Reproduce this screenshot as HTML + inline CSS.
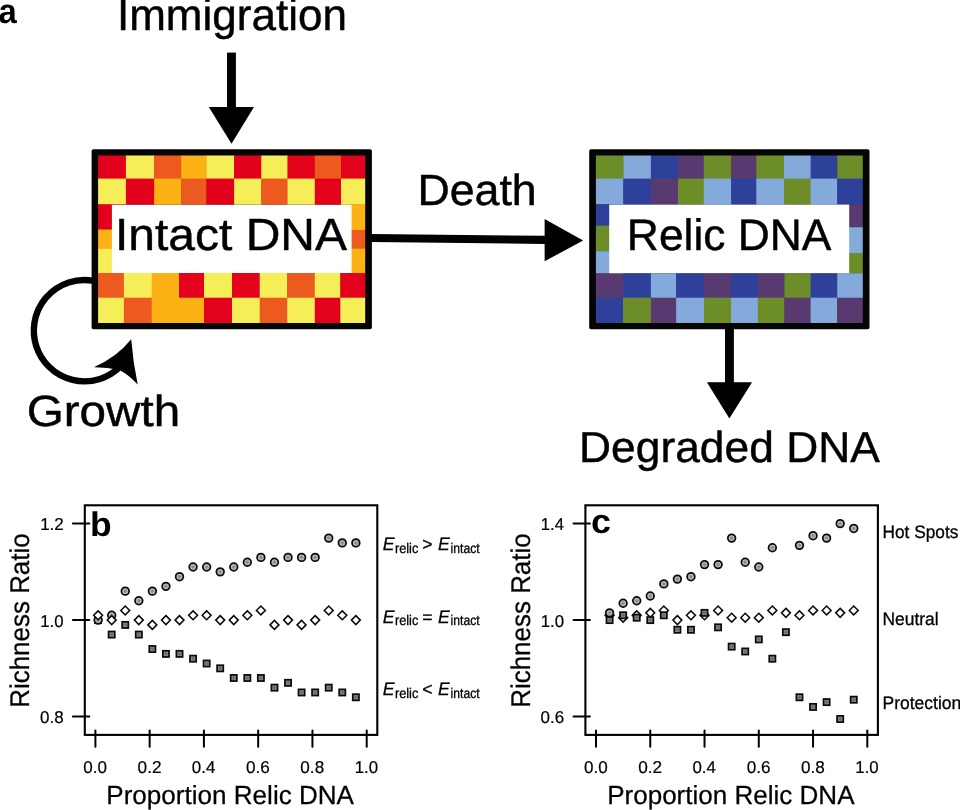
<!DOCTYPE html>
<html><head><meta charset="utf-8"><title>Figure</title>
<style>html,body{margin:0;padding:0;background:#fff;}body{width:960px;height:810px;overflow:hidden;}svg{display:block;will-change:transform;opacity:0.999;}text{font-family:'Liberation Sans',sans-serif;fill:#000;font-kerning:none;text-rendering:geometricPrecision;}</style></head><body>
<svg width="960" height="810" viewBox="0 0 960 810">
<defs><radialGradient id="gc"><stop offset="0" stop-color="#787878"/><stop offset="0.35" stop-color="#9c9c9c"/><stop offset="0.8" stop-color="#cacaca"/></radialGradient><radialGradient id="gs"><stop offset="0" stop-color="#626262"/><stop offset="0.45" stop-color="#767676"/><stop offset="0.85" stop-color="#9c9c9c"/></radialGradient></defs>
<rect width="960" height="810" fill="#fff"/>
<text transform="translate(-1.59,22.60) scale(0.9498,1)" font-size="34.6" font-weight="bold">a</text>
<text transform="translate(116.95,29.70) scale(1.0004,1)" font-size="44" stroke="#000" stroke-width="0.45">Immigration</text>
<rect x="227" y="52.6" width="8.9" height="56" fill="#000"/>
<polygon points="208.8,107 254,107 231.5,143.7" fill="#000"/>
<rect x="91.6" y="149.2" width="280.30" height="180.10" fill="#050505" rx="1.8"/>
<rect x="98.10" y="155.50" width="28.20" height="23.50" fill="#e3001c"/>
<rect x="125.90" y="155.50" width="28.60" height="23.50" fill="#f6ee58"/>
<rect x="154.10" y="155.50" width="27.40" height="23.50" fill="#ec5a1f"/>
<rect x="181.10" y="155.50" width="25.70" height="23.50" fill="#fcb114"/>
<rect x="206.40" y="155.50" width="28.10" height="23.50" fill="#f6ee58"/>
<rect x="234.10" y="155.50" width="27.55" height="23.50" fill="#e3001c"/>
<rect x="261.25" y="155.50" width="26.65" height="23.50" fill="#f6ee58"/>
<rect x="287.50" y="155.50" width="27.70" height="23.50" fill="#e3001c"/>
<rect x="314.80" y="155.50" width="26.60" height="23.50" fill="#ec5a1f"/>
<rect x="341.00" y="155.50" width="24.20" height="23.50" fill="#e3001c"/>
<rect x="98.10" y="178.60" width="28.20" height="26.10" fill="#f6ee58"/>
<rect x="125.90" y="178.60" width="28.60" height="26.10" fill="#e3001c"/>
<rect x="154.10" y="178.60" width="27.40" height="26.10" fill="#fcb114"/>
<rect x="181.10" y="178.60" width="25.70" height="26.10" fill="#ec5a1f"/>
<rect x="206.40" y="178.60" width="28.10" height="26.10" fill="#e3001c"/>
<rect x="234.10" y="178.60" width="27.55" height="26.10" fill="#f6ee58"/>
<rect x="261.25" y="178.60" width="26.65" height="26.10" fill="#ec5a1f"/>
<rect x="287.50" y="178.60" width="27.70" height="26.10" fill="#f6ee58"/>
<rect x="314.80" y="178.60" width="26.60" height="26.10" fill="#e3001c"/>
<rect x="341.00" y="178.60" width="24.20" height="26.10" fill="#f6ee58"/>
<rect x="98.10" y="204.30" width="28.20" height="25.60" fill="#e3001c"/>
<rect x="341.00" y="204.30" width="24.20" height="26.10" fill="#fcb114"/>
<rect x="98.10" y="229.50" width="26.20" height="19.80" fill="#fcb114"/>
<rect x="340.30" y="230.00" width="24.90" height="18.90" fill="#ec5a1f"/>
<rect x="98.10" y="248.90" width="26.20" height="24.50" fill="#f6ee58"/>
<rect x="340.30" y="248.50" width="24.90" height="24.90" fill="#fcb114"/>
<rect x="98.10" y="273.00" width="26.20" height="25.10" fill="#ec5a1f"/>
<rect x="123.90" y="273.00" width="28.20" height="25.10" fill="#f6ee58"/>
<rect x="151.70" y="273.00" width="27.70" height="25.10" fill="#fcb114"/>
<rect x="179.00" y="273.00" width="25.40" height="25.10" fill="#e3001c"/>
<rect x="204.00" y="273.00" width="28.40" height="25.10" fill="#f6ee58"/>
<rect x="232.00" y="273.00" width="28.10" height="25.10" fill="#e3001c"/>
<rect x="259.70" y="273.00" width="27.90" height="25.10" fill="#f6ee58"/>
<rect x="287.20" y="273.00" width="28.00" height="25.10" fill="#ec5a1f"/>
<rect x="314.80" y="273.00" width="25.90" height="25.10" fill="#f6ee58"/>
<rect x="340.30" y="273.00" width="24.90" height="25.10" fill="#e3001c"/>
<rect x="98.10" y="297.70" width="26.20" height="25.30" fill="#f6ee58"/>
<rect x="123.90" y="297.70" width="28.20" height="25.30" fill="#ec5a1f"/>
<rect x="151.70" y="297.70" width="27.70" height="25.30" fill="#fcb114"/>
<rect x="179.00" y="297.70" width="25.40" height="25.30" fill="#fcb114"/>
<rect x="204.00" y="297.70" width="28.40" height="25.30" fill="#e3001c"/>
<rect x="232.00" y="297.70" width="28.10" height="25.30" fill="#f6ee58"/>
<rect x="259.70" y="297.70" width="27.90" height="25.30" fill="#ec5a1f"/>
<rect x="287.20" y="297.70" width="28.00" height="25.30" fill="#f6ee58"/>
<rect x="314.80" y="297.70" width="25.90" height="25.30" fill="#e3001c"/>
<rect x="340.30" y="297.70" width="24.90" height="25.30" fill="#f6ee58"/>
<rect x="111.9" y="204.8" width="239.70" height="68.20" fill="#fff"/>
<text transform="translate(114.99,250.40) scale(1.0663,1)" font-size="45" stroke="#000" stroke-width="0.45">Intact DNA</text>
<rect x="589.2" y="149.2" width="280.30" height="180.00" fill="#050505" rx="1.8"/>
<rect x="595.90" y="155.50" width="27.80" height="23.50" fill="#6c8d28"/>
<rect x="623.30" y="155.50" width="28.00" height="23.50" fill="#84a9db"/>
<rect x="650.90" y="155.50" width="27.50" height="23.50" fill="#2d419b"/>
<rect x="678.00" y="155.50" width="26.15" height="23.50" fill="#583a70"/>
<rect x="703.75" y="155.50" width="27.85" height="23.50" fill="#6c8d28"/>
<rect x="731.20" y="155.50" width="25.45" height="23.50" fill="#583a70"/>
<rect x="756.25" y="155.50" width="28.15" height="23.50" fill="#6c8d28"/>
<rect x="784.00" y="155.50" width="27.00" height="23.50" fill="#84a9db"/>
<rect x="810.60" y="155.50" width="27.00" height="23.50" fill="#2d419b"/>
<rect x="837.20" y="155.50" width="25.60" height="23.50" fill="#6c8d28"/>
<rect x="595.90" y="178.60" width="27.80" height="26.00" fill="#84a9db"/>
<rect x="623.30" y="178.60" width="28.00" height="26.00" fill="#2d419b"/>
<rect x="650.90" y="178.60" width="27.50" height="26.00" fill="#583a70"/>
<rect x="678.00" y="178.60" width="26.15" height="26.00" fill="#6c8d28"/>
<rect x="703.75" y="178.60" width="27.85" height="26.00" fill="#84a9db"/>
<rect x="731.20" y="178.60" width="25.45" height="26.00" fill="#2d419b"/>
<rect x="756.25" y="178.60" width="28.15" height="26.00" fill="#84a9db"/>
<rect x="784.00" y="178.60" width="27.00" height="26.00" fill="#6c8d28"/>
<rect x="810.60" y="178.60" width="27.00" height="26.00" fill="#84a9db"/>
<rect x="837.20" y="178.60" width="25.60" height="26.00" fill="#2d419b"/>
<rect x="595.90" y="204.20" width="27.80" height="21.90" fill="#2d419b"/>
<rect x="837.20" y="204.20" width="25.60" height="23.40" fill="#583a70"/>
<rect x="595.90" y="225.70" width="27.50" height="25.90" fill="#6c8d28"/>
<rect x="837.20" y="227.20" width="25.60" height="26.20" fill="#84a9db"/>
<rect x="595.90" y="251.20" width="27.50" height="22.50" fill="#84a9db"/>
<rect x="837.20" y="253.00" width="25.60" height="20.70" fill="#6c8d28"/>
<rect x="595.90" y="273.30" width="27.50" height="24.80" fill="#583a70"/>
<rect x="623.00" y="273.30" width="28.30" height="24.80" fill="#2d419b"/>
<rect x="650.90" y="273.30" width="25.60" height="24.80" fill="#84a9db"/>
<rect x="676.10" y="273.30" width="28.30" height="24.80" fill="#2d419b"/>
<rect x="704.00" y="273.30" width="27.40" height="24.80" fill="#583a70"/>
<rect x="731.00" y="273.30" width="27.20" height="24.80" fill="#2d419b"/>
<rect x="757.80" y="273.30" width="27.00" height="24.80" fill="#583a70"/>
<rect x="784.40" y="273.30" width="26.60" height="24.80" fill="#6c8d28"/>
<rect x="810.60" y="273.30" width="27.00" height="24.80" fill="#2d419b"/>
<rect x="837.20" y="273.30" width="25.60" height="24.80" fill="#84a9db"/>
<rect x="595.90" y="297.70" width="27.50" height="25.30" fill="#2d419b"/>
<rect x="623.00" y="297.70" width="28.30" height="25.30" fill="#6c8d28"/>
<rect x="650.90" y="297.70" width="25.60" height="25.30" fill="#583a70"/>
<rect x="676.10" y="297.70" width="28.30" height="25.30" fill="#84a9db"/>
<rect x="704.00" y="297.70" width="27.40" height="25.30" fill="#6c8d28"/>
<rect x="731.00" y="297.70" width="27.20" height="25.30" fill="#84a9db"/>
<rect x="757.80" y="297.70" width="27.00" height="25.30" fill="#6c8d28"/>
<rect x="784.40" y="297.70" width="26.60" height="25.30" fill="#583a70"/>
<rect x="810.60" y="297.70" width="27.00" height="25.30" fill="#84a9db"/>
<rect x="837.20" y="297.70" width="25.60" height="25.30" fill="#583a70"/>
<rect x="609.2" y="204.6" width="240.00" height="68.60" fill="#fff"/>
<text transform="translate(626.87,249.80) scale(1.0082,1)" font-size="44" stroke="#000" stroke-width="0.45">Relic DNA</text>
<text transform="translate(417.44,204.50) scale(1.0253,1)" font-size="43.6" stroke="#000" stroke-width="0.45">Death</text>
<polygon points="371,233.9 545,235.8 545,244 371,241.9" fill="#000"/>
<polygon points="544.6,219 544.6,261.3 583.2,240.4" fill="#000"/>
<path d="M 92.5 280.6 A 50.7 50.7 0 1 0 120.3 366.6" fill="none" stroke="#000" stroke-width="6.4"/>
<path d="M 131.2 339.2 Q 133 362 137.7 384.6 Q 129 375 119 369.8 Q 106 367 93.8 367.2 Q 117 357 131.2 339.2 Z" fill="#000"/>
<text transform="translate(26.74,426.20) scale(1.0920,1)" font-size="43.6" stroke="#000" stroke-width="0.45">Growth</text>
<rect x="725" y="328" width="8.9" height="56" fill="#000"/>
<polygon points="706.9,382.2 752,382.2 729.4,418.6" fill="#000"/>
<text transform="translate(579.07,461.70) scale(1.0219,1)" font-size="43.4" stroke="#000" stroke-width="0.45">Degraded DNA</text>
<rect x="84.80" y="505.3" width="292.50" height="229.60" fill="none" stroke="#000" stroke-width="2.1"/>
<line x1="72.90" y1="523.62" x2="89.30" y2="523.62" stroke="#000" stroke-width="2.0" stroke-linecap="round"/>
<text transform="translate(40.13,530.12) scale(0.9881,1)" font-size="17.2" stroke="#000" stroke-width="0.2">1.2</text>
<line x1="72.90" y1="620.10" x2="89.30" y2="620.10" stroke="#000" stroke-width="2.0" stroke-linecap="round"/>
<text transform="translate(40.14,626.60) scale(0.9785,1)" font-size="17.2" stroke="#000" stroke-width="0.2">1.0</text>
<line x1="72.90" y1="716.58" x2="89.30" y2="716.58" stroke="#000" stroke-width="2.0" stroke-linecap="round"/>
<text transform="translate(40.02,723.08) scale(0.9871,1)" font-size="17.2" stroke="#000" stroke-width="0.2">0.8</text>
<line x1="95.40" y1="730.4" x2="95.40" y2="746.7" stroke="#000" stroke-width="2.0" stroke-linecap="round"/>
<text transform="translate(83.32,773.00) scale(0.9922,1)" font-size="17.2" stroke="#000" stroke-width="0.2">0.0</text>
<line x1="149.66" y1="730.4" x2="149.66" y2="746.7" stroke="#000" stroke-width="2.0" stroke-linecap="round"/>
<text transform="translate(137.57,773.00) scale(1.0018,1)" font-size="17.2" stroke="#000" stroke-width="0.2">0.2</text>
<line x1="203.92" y1="730.4" x2="203.92" y2="746.7" stroke="#000" stroke-width="2.0" stroke-linecap="round"/>
<text transform="translate(191.84,773.00) scale(0.9847,1)" font-size="17.2" stroke="#000" stroke-width="0.2">0.4</text>
<line x1="258.18" y1="730.4" x2="258.18" y2="746.7" stroke="#000" stroke-width="2.0" stroke-linecap="round"/>
<text transform="translate(246.09,773.00) scale(0.9960,1)" font-size="17.2" stroke="#000" stroke-width="0.2">0.6</text>
<line x1="312.44" y1="730.4" x2="312.44" y2="746.7" stroke="#000" stroke-width="2.0" stroke-linecap="round"/>
<text transform="translate(300.35,773.00) scale(0.9960,1)" font-size="17.2" stroke="#000" stroke-width="0.2">0.8</text>
<line x1="366.70" y1="730.4" x2="366.70" y2="746.7" stroke="#000" stroke-width="2.0" stroke-linecap="round"/>
<text transform="translate(354.74,773.00) scale(0.9785,1)" font-size="17.2" stroke="#000" stroke-width="0.2">1.0</text>
<rect x="95.03" y="617.02" width="6.16" height="6.16" fill="url(#gs)" stroke="#0a0a0a" stroke-width="1.75"/>
<rect x="108.60" y="631.49" width="6.16" height="6.16" fill="url(#gs)" stroke="#0a0a0a" stroke-width="1.75"/>
<rect x="122.16" y="621.84" width="6.16" height="6.16" fill="url(#gs)" stroke="#0a0a0a" stroke-width="1.75"/>
<rect x="135.73" y="631.49" width="6.16" height="6.16" fill="url(#gs)" stroke="#0a0a0a" stroke-width="1.75"/>
<rect x="149.29" y="645.96" width="6.16" height="6.16" fill="url(#gs)" stroke="#0a0a0a" stroke-width="1.75"/>
<rect x="162.86" y="650.79" width="6.16" height="6.16" fill="url(#gs)" stroke="#0a0a0a" stroke-width="1.75"/>
<rect x="176.42" y="650.79" width="6.16" height="6.16" fill="url(#gs)" stroke="#0a0a0a" stroke-width="1.75"/>
<rect x="189.99" y="655.61" width="6.16" height="6.16" fill="url(#gs)" stroke="#0a0a0a" stroke-width="1.75"/>
<rect x="203.55" y="660.44" width="6.16" height="6.16" fill="url(#gs)" stroke="#0a0a0a" stroke-width="1.75"/>
<rect x="217.12" y="665.26" width="6.16" height="6.16" fill="url(#gs)" stroke="#0a0a0a" stroke-width="1.75"/>
<rect x="230.68" y="674.91" width="6.16" height="6.16" fill="url(#gs)" stroke="#0a0a0a" stroke-width="1.75"/>
<rect x="244.25" y="674.91" width="6.16" height="6.16" fill="url(#gs)" stroke="#0a0a0a" stroke-width="1.75"/>
<rect x="257.81" y="674.91" width="6.16" height="6.16" fill="url(#gs)" stroke="#0a0a0a" stroke-width="1.75"/>
<rect x="271.38" y="684.56" width="6.16" height="6.16" fill="url(#gs)" stroke="#0a0a0a" stroke-width="1.75"/>
<rect x="284.94" y="679.73" width="6.16" height="6.16" fill="url(#gs)" stroke="#0a0a0a" stroke-width="1.75"/>
<rect x="298.51" y="689.38" width="6.16" height="6.16" fill="url(#gs)" stroke="#0a0a0a" stroke-width="1.75"/>
<rect x="312.07" y="689.38" width="6.16" height="6.16" fill="url(#gs)" stroke="#0a0a0a" stroke-width="1.75"/>
<rect x="325.64" y="684.56" width="6.16" height="6.16" fill="url(#gs)" stroke="#0a0a0a" stroke-width="1.75"/>
<rect x="339.20" y="689.38" width="6.16" height="6.16" fill="url(#gs)" stroke="#0a0a0a" stroke-width="1.75"/>
<rect x="352.77" y="694.20" width="6.16" height="6.16" fill="url(#gs)" stroke="#0a0a0a" stroke-width="1.75"/>
<circle cx="98.11" cy="620.10" r="3.82" fill="url(#gc)" stroke="#0a0a0a" stroke-width="1.75"/>
<circle cx="111.68" cy="615.28" r="3.82" fill="url(#gc)" stroke="#0a0a0a" stroke-width="1.75"/>
<circle cx="125.24" cy="591.16" r="3.82" fill="url(#gc)" stroke="#0a0a0a" stroke-width="1.75"/>
<circle cx="138.81" cy="600.80" r="3.82" fill="url(#gc)" stroke="#0a0a0a" stroke-width="1.75"/>
<circle cx="152.37" cy="591.16" r="3.82" fill="url(#gc)" stroke="#0a0a0a" stroke-width="1.75"/>
<circle cx="165.94" cy="586.33" r="3.82" fill="url(#gc)" stroke="#0a0a0a" stroke-width="1.75"/>
<circle cx="179.50" cy="576.68" r="3.82" fill="url(#gc)" stroke="#0a0a0a" stroke-width="1.75"/>
<circle cx="193.07" cy="567.04" r="3.82" fill="url(#gc)" stroke="#0a0a0a" stroke-width="1.75"/>
<circle cx="206.63" cy="567.04" r="3.82" fill="url(#gc)" stroke="#0a0a0a" stroke-width="1.75"/>
<circle cx="220.20" cy="571.86" r="3.82" fill="url(#gc)" stroke="#0a0a0a" stroke-width="1.75"/>
<circle cx="233.76" cy="567.04" r="3.82" fill="url(#gc)" stroke="#0a0a0a" stroke-width="1.75"/>
<circle cx="247.33" cy="562.21" r="3.82" fill="url(#gc)" stroke="#0a0a0a" stroke-width="1.75"/>
<circle cx="260.89" cy="557.39" r="3.82" fill="url(#gc)" stroke="#0a0a0a" stroke-width="1.75"/>
<circle cx="274.46" cy="562.21" r="3.82" fill="url(#gc)" stroke="#0a0a0a" stroke-width="1.75"/>
<circle cx="288.02" cy="557.39" r="3.82" fill="url(#gc)" stroke="#0a0a0a" stroke-width="1.75"/>
<circle cx="301.59" cy="557.39" r="3.82" fill="url(#gc)" stroke="#0a0a0a" stroke-width="1.75"/>
<circle cx="315.15" cy="557.39" r="3.82" fill="url(#gc)" stroke="#0a0a0a" stroke-width="1.75"/>
<circle cx="328.72" cy="538.09" r="3.82" fill="url(#gc)" stroke="#0a0a0a" stroke-width="1.75"/>
<circle cx="342.28" cy="542.92" r="3.82" fill="url(#gc)" stroke="#0a0a0a" stroke-width="1.75"/>
<circle cx="355.85" cy="542.92" r="3.82" fill="url(#gc)" stroke="#0a0a0a" stroke-width="1.75"/>
<polygon points="93.66,615.28 98.11,610.83 102.56,615.28 98.11,619.73" fill="#fff" stroke="#0a0a0a" stroke-width="1.55"/>
<polygon points="107.23,620.10 111.68,615.65 116.13,620.10 111.68,624.55" fill="#fff" stroke="#0a0a0a" stroke-width="1.55"/>
<polygon points="120.79,610.45 125.24,606.00 129.69,610.45 125.24,614.90" fill="#fff" stroke="#0a0a0a" stroke-width="1.55"/>
<polygon points="134.36,620.10 138.81,615.65 143.26,620.10 138.81,624.55" fill="#fff" stroke="#0a0a0a" stroke-width="1.55"/>
<polygon points="147.92,624.92 152.37,620.47 156.82,624.92 152.37,629.37" fill="#fff" stroke="#0a0a0a" stroke-width="1.55"/>
<polygon points="161.49,620.10 165.94,615.65 170.39,620.10 165.94,624.55" fill="#fff" stroke="#0a0a0a" stroke-width="1.55"/>
<polygon points="175.05,620.10 179.50,615.65 183.95,620.10 179.50,624.55" fill="#fff" stroke="#0a0a0a" stroke-width="1.55"/>
<polygon points="188.62,615.28 193.07,610.83 197.52,615.28 193.07,619.73" fill="#fff" stroke="#0a0a0a" stroke-width="1.55"/>
<polygon points="202.18,615.28 206.63,610.83 211.08,615.28 206.63,619.73" fill="#fff" stroke="#0a0a0a" stroke-width="1.55"/>
<polygon points="215.75,620.10 220.20,615.65 224.65,620.10 220.20,624.55" fill="#fff" stroke="#0a0a0a" stroke-width="1.55"/>
<polygon points="229.31,620.10 233.76,615.65 238.21,620.10 233.76,624.55" fill="#fff" stroke="#0a0a0a" stroke-width="1.55"/>
<polygon points="242.88,615.28 247.33,610.83 251.78,615.28 247.33,619.73" fill="#fff" stroke="#0a0a0a" stroke-width="1.55"/>
<polygon points="256.44,610.45 260.89,606.00 265.34,610.45 260.89,614.90" fill="#fff" stroke="#0a0a0a" stroke-width="1.55"/>
<polygon points="270.01,624.92 274.46,620.47 278.91,624.92 274.46,629.37" fill="#fff" stroke="#0a0a0a" stroke-width="1.55"/>
<polygon points="283.57,620.10 288.02,615.65 292.47,620.10 288.02,624.55" fill="#fff" stroke="#0a0a0a" stroke-width="1.55"/>
<polygon points="297.14,624.92 301.59,620.47 306.04,624.92 301.59,629.37" fill="#fff" stroke="#0a0a0a" stroke-width="1.55"/>
<polygon points="310.70,620.10 315.15,615.65 319.60,620.10 315.15,624.55" fill="#fff" stroke="#0a0a0a" stroke-width="1.55"/>
<polygon points="324.27,610.45 328.72,606.00 333.17,610.45 328.72,614.90" fill="#fff" stroke="#0a0a0a" stroke-width="1.55"/>
<polygon points="337.83,615.28 342.28,610.83 346.73,615.28 342.28,619.73" fill="#fff" stroke="#0a0a0a" stroke-width="1.55"/>
<polygon points="351.40,620.10 355.85,615.65 360.30,620.10 355.85,624.55" fill="#fff" stroke="#0a0a0a" stroke-width="1.55"/>
<text transform="translate(90.00,535.90) scale(1.0425,1)" font-size="34" font-weight="bold">b</text>
<rect x="585.40" y="505.3" width="292.50" height="229.60" fill="none" stroke="#000" stroke-width="2.1"/>
<line x1="573.50" y1="523.62" x2="589.90" y2="523.62" stroke="#000" stroke-width="2.0" stroke-linecap="round"/>
<text transform="translate(540.75,530.12) scale(0.9709,1)" font-size="17.2" stroke="#000" stroke-width="0.2">1.4</text>
<line x1="573.50" y1="620.10" x2="589.90" y2="620.10" stroke="#000" stroke-width="2.0" stroke-linecap="round"/>
<text transform="translate(540.74,626.60) scale(0.9785,1)" font-size="17.2" stroke="#000" stroke-width="0.2">1.0</text>
<line x1="573.50" y1="716.58" x2="589.90" y2="716.58" stroke="#000" stroke-width="2.0" stroke-linecap="round"/>
<text transform="translate(540.62,723.08) scale(0.9871,1)" font-size="17.2" stroke="#000" stroke-width="0.2">0.6</text>
<line x1="596.00" y1="730.4" x2="596.00" y2="746.7" stroke="#000" stroke-width="2.0" stroke-linecap="round"/>
<text transform="translate(583.92,773.00) scale(0.9922,1)" font-size="17.2" stroke="#000" stroke-width="0.2">0.0</text>
<line x1="650.26" y1="730.4" x2="650.26" y2="746.7" stroke="#000" stroke-width="2.0" stroke-linecap="round"/>
<text transform="translate(638.17,773.00) scale(1.0018,1)" font-size="17.2" stroke="#000" stroke-width="0.2">0.2</text>
<line x1="704.52" y1="730.4" x2="704.52" y2="746.7" stroke="#000" stroke-width="2.0" stroke-linecap="round"/>
<text transform="translate(692.44,773.00) scale(0.9847,1)" font-size="17.2" stroke="#000" stroke-width="0.2">0.4</text>
<line x1="758.78" y1="730.4" x2="758.78" y2="746.7" stroke="#000" stroke-width="2.0" stroke-linecap="round"/>
<text transform="translate(746.69,773.00) scale(0.9960,1)" font-size="17.2" stroke="#000" stroke-width="0.2">0.6</text>
<line x1="813.04" y1="730.4" x2="813.04" y2="746.7" stroke="#000" stroke-width="2.0" stroke-linecap="round"/>
<text transform="translate(800.95,773.00) scale(0.9960,1)" font-size="17.2" stroke="#000" stroke-width="0.2">0.8</text>
<line x1="867.30" y1="730.4" x2="867.30" y2="746.7" stroke="#000" stroke-width="2.0" stroke-linecap="round"/>
<text transform="translate(855.34,773.00) scale(0.9785,1)" font-size="17.2" stroke="#000" stroke-width="0.2">1.0</text>
<polygon points="605.12,615.28 609.57,610.83 614.02,615.28 609.57,619.73" fill="#fff" stroke="#0a0a0a" stroke-width="1.55"/>
<polygon points="618.68,617.69 623.13,613.24 627.58,617.69 623.13,622.14" fill="#fff" stroke="#0a0a0a" stroke-width="1.55"/>
<polygon points="632.25,615.28 636.70,610.83 641.15,615.28 636.70,619.73" fill="#fff" stroke="#0a0a0a" stroke-width="1.55"/>
<polygon points="645.81,612.86 650.26,608.41 654.71,612.86 650.26,617.31" fill="#fff" stroke="#0a0a0a" stroke-width="1.55"/>
<polygon points="659.38,610.45 663.83,606.00 668.28,610.45 663.83,614.90" fill="#fff" stroke="#0a0a0a" stroke-width="1.55"/>
<polygon points="672.94,620.10 677.39,615.65 681.84,620.10 677.39,624.55" fill="#fff" stroke="#0a0a0a" stroke-width="1.55"/>
<polygon points="686.50,615.28 690.96,610.83 695.41,615.28 690.96,619.73" fill="#fff" stroke="#0a0a0a" stroke-width="1.55"/>
<polygon points="700.07,615.28 704.52,610.83 708.97,615.28 704.52,619.73" fill="#fff" stroke="#0a0a0a" stroke-width="1.55"/>
<polygon points="713.63,610.45 718.09,606.00 722.54,610.45 718.09,614.90" fill="#fff" stroke="#0a0a0a" stroke-width="1.55"/>
<polygon points="727.20,617.69 731.65,613.24 736.10,617.69 731.65,622.14" fill="#fff" stroke="#0a0a0a" stroke-width="1.55"/>
<polygon points="740.76,617.69 745.22,613.24 749.67,617.69 745.22,622.14" fill="#fff" stroke="#0a0a0a" stroke-width="1.55"/>
<polygon points="754.33,617.69 758.78,613.24 763.23,617.69 758.78,622.14" fill="#fff" stroke="#0a0a0a" stroke-width="1.55"/>
<polygon points="767.89,610.45 772.35,606.00 776.80,610.45 772.35,614.90" fill="#fff" stroke="#0a0a0a" stroke-width="1.55"/>
<polygon points="781.46,612.86 785.91,608.41 790.36,612.86 785.91,617.31" fill="#fff" stroke="#0a0a0a" stroke-width="1.55"/>
<polygon points="795.02,615.28 799.48,610.83 803.93,615.28 799.48,619.73" fill="#fff" stroke="#0a0a0a" stroke-width="1.55"/>
<polygon points="808.59,610.45 813.04,606.00 817.49,610.45 813.04,614.90" fill="#fff" stroke="#0a0a0a" stroke-width="1.55"/>
<polygon points="822.15,610.45 826.61,606.00 831.06,610.45 826.61,614.90" fill="#fff" stroke="#0a0a0a" stroke-width="1.55"/>
<polygon points="835.72,612.86 840.17,608.41 844.62,612.86 840.17,617.31" fill="#fff" stroke="#0a0a0a" stroke-width="1.55"/>
<polygon points="849.28,610.45 853.74,606.00 858.19,610.45 853.74,614.90" fill="#fff" stroke="#0a0a0a" stroke-width="1.55"/>
<rect x="606.49" y="617.02" width="6.16" height="6.16" fill="url(#gs)" stroke="#0a0a0a" stroke-width="1.75"/>
<rect x="620.05" y="612.20" width="6.16" height="6.16" fill="url(#gs)" stroke="#0a0a0a" stroke-width="1.75"/>
<rect x="633.62" y="614.61" width="6.16" height="6.16" fill="url(#gs)" stroke="#0a0a0a" stroke-width="1.75"/>
<rect x="647.18" y="617.02" width="6.16" height="6.16" fill="url(#gs)" stroke="#0a0a0a" stroke-width="1.75"/>
<rect x="660.75" y="612.20" width="6.16" height="6.16" fill="url(#gs)" stroke="#0a0a0a" stroke-width="1.75"/>
<rect x="674.31" y="626.67" width="6.16" height="6.16" fill="url(#gs)" stroke="#0a0a0a" stroke-width="1.75"/>
<rect x="687.88" y="626.67" width="6.16" height="6.16" fill="url(#gs)" stroke="#0a0a0a" stroke-width="1.75"/>
<rect x="701.44" y="609.78" width="6.16" height="6.16" fill="url(#gs)" stroke="#0a0a0a" stroke-width="1.75"/>
<rect x="715.00" y="624.26" width="6.16" height="6.16" fill="url(#gs)" stroke="#0a0a0a" stroke-width="1.75"/>
<rect x="728.57" y="643.55" width="6.16" height="6.16" fill="url(#gs)" stroke="#0a0a0a" stroke-width="1.75"/>
<rect x="742.13" y="648.38" width="6.16" height="6.16" fill="url(#gs)" stroke="#0a0a0a" stroke-width="1.75"/>
<rect x="755.70" y="636.32" width="6.16" height="6.16" fill="url(#gs)" stroke="#0a0a0a" stroke-width="1.75"/>
<rect x="769.26" y="655.61" width="6.16" height="6.16" fill="url(#gs)" stroke="#0a0a0a" stroke-width="1.75"/>
<rect x="782.83" y="629.08" width="6.16" height="6.16" fill="url(#gs)" stroke="#0a0a0a" stroke-width="1.75"/>
<rect x="796.39" y="694.20" width="6.16" height="6.16" fill="url(#gs)" stroke="#0a0a0a" stroke-width="1.75"/>
<rect x="809.96" y="703.85" width="6.16" height="6.16" fill="url(#gs)" stroke="#0a0a0a" stroke-width="1.75"/>
<rect x="823.52" y="699.03" width="6.16" height="6.16" fill="url(#gs)" stroke="#0a0a0a" stroke-width="1.75"/>
<rect x="837.09" y="715.91" width="6.16" height="6.16" fill="url(#gs)" stroke="#0a0a0a" stroke-width="1.75"/>
<rect x="850.65" y="696.62" width="6.16" height="6.16" fill="url(#gs)" stroke="#0a0a0a" stroke-width="1.75"/>
<circle cx="609.57" cy="612.86" r="3.82" fill="url(#gc)" stroke="#0a0a0a" stroke-width="1.75"/>
<circle cx="623.13" cy="603.22" r="3.82" fill="url(#gc)" stroke="#0a0a0a" stroke-width="1.75"/>
<circle cx="636.70" cy="600.80" r="3.82" fill="url(#gc)" stroke="#0a0a0a" stroke-width="1.75"/>
<circle cx="650.26" cy="595.98" r="3.82" fill="url(#gc)" stroke="#0a0a0a" stroke-width="1.75"/>
<circle cx="663.83" cy="583.92" r="3.82" fill="url(#gc)" stroke="#0a0a0a" stroke-width="1.75"/>
<circle cx="677.39" cy="579.10" r="3.82" fill="url(#gc)" stroke="#0a0a0a" stroke-width="1.75"/>
<circle cx="690.96" cy="576.68" r="3.82" fill="url(#gc)" stroke="#0a0a0a" stroke-width="1.75"/>
<circle cx="704.52" cy="564.62" r="3.82" fill="url(#gc)" stroke="#0a0a0a" stroke-width="1.75"/>
<circle cx="718.09" cy="564.62" r="3.82" fill="url(#gc)" stroke="#0a0a0a" stroke-width="1.75"/>
<circle cx="731.65" cy="538.09" r="3.82" fill="url(#gc)" stroke="#0a0a0a" stroke-width="1.75"/>
<circle cx="745.22" cy="562.21" r="3.82" fill="url(#gc)" stroke="#0a0a0a" stroke-width="1.75"/>
<circle cx="758.78" cy="567.04" r="3.82" fill="url(#gc)" stroke="#0a0a0a" stroke-width="1.75"/>
<circle cx="772.35" cy="547.74" r="3.82" fill="url(#gc)" stroke="#0a0a0a" stroke-width="1.75"/>
<circle cx="799.48" cy="545.33" r="3.82" fill="url(#gc)" stroke="#0a0a0a" stroke-width="1.75"/>
<circle cx="813.04" cy="535.68" r="3.82" fill="url(#gc)" stroke="#0a0a0a" stroke-width="1.75"/>
<circle cx="826.61" cy="538.09" r="3.82" fill="url(#gc)" stroke="#0a0a0a" stroke-width="1.75"/>
<circle cx="840.17" cy="523.62" r="3.82" fill="url(#gc)" stroke="#0a0a0a" stroke-width="1.75"/>
<circle cx="853.74" cy="528.44" r="3.82" fill="url(#gc)" stroke="#0a0a0a" stroke-width="1.75"/>
<text transform="translate(591.06,533.40) scale(1.0558,1)" font-size="34" font-weight="bold">c</text>
<text transform="translate(106.27,803.70) scale(0.9953,1)" font-size="26.2" stroke="#000" stroke-width="0.25">Proportion Relic DNA</text>
<text transform="translate(607.18,803.70) scale(0.9937,1)" font-size="26.2" stroke="#000" stroke-width="0.25">Proportion Relic DNA</text>
<text transform="translate(29.00,707.82) rotate(-90) scale(0.9612,1)" font-size="27" stroke="#000" stroke-width="0.25">Richness Ratio</text>
<text transform="translate(529.70,707.82) rotate(-90) scale(0.9612,1)" font-size="27" stroke="#000" stroke-width="0.25">Richness Ratio</text>
<text transform="translate(382.69,550.40) scale(0.9819,1)" font-size="18" stroke="#000" stroke-width="0.25" font-style="italic">E</text>
<text transform="translate(394.89,553.30) scale(0.9126,1)" font-size="14" stroke="#000" stroke-width="0.3">relic</text>
<text transform="translate(422.34,550.40) scale(1.0074,1)" font-size="17.5" stroke="#000" stroke-width="0.25">&gt;</text>
<text transform="translate(438.10,550.40) scale(0.9776,1)" font-size="18" stroke="#000" stroke-width="0.25" font-style="italic">E</text>
<text transform="translate(450.58,553.30) scale(0.8701,1)" font-size="14" stroke="#000" stroke-width="0.3">intact</text>
<text transform="translate(382.69,622.50) scale(0.9819,1)" font-size="18" stroke="#000" stroke-width="0.25" font-style="italic">E</text>
<text transform="translate(394.89,625.40) scale(0.9126,1)" font-size="14" stroke="#000" stroke-width="0.3">relic</text>
<text transform="translate(422.34,622.50) scale(1.0074,1)" font-size="17.5" stroke="#000" stroke-width="0.25">=</text>
<text transform="translate(438.10,622.50) scale(0.9776,1)" font-size="18" stroke="#000" stroke-width="0.25" font-style="italic">E</text>
<text transform="translate(450.58,625.40) scale(0.8701,1)" font-size="14" stroke="#000" stroke-width="0.3">intact</text>
<text transform="translate(382.69,695.00) scale(0.9819,1)" font-size="18" stroke="#000" stroke-width="0.25" font-style="italic">E</text>
<text transform="translate(394.89,697.90) scale(0.9126,1)" font-size="14" stroke="#000" stroke-width="0.3">relic</text>
<text transform="translate(422.34,695.00) scale(1.0074,1)" font-size="17.5" stroke="#000" stroke-width="0.25">&lt;</text>
<text transform="translate(438.10,695.00) scale(0.9776,1)" font-size="18" stroke="#000" stroke-width="0.25" font-style="italic">E</text>
<text transform="translate(450.58,697.90) scale(0.8701,1)" font-size="14" stroke="#000" stroke-width="0.3">intact</text>
<text transform="translate(882.47,537.90) scale(0.9597,1)" font-size="18" stroke="#000" stroke-width="0.3">Hot Spots</text>
<text transform="translate(882.46,624.80) scale(0.9675,1)" font-size="18" stroke="#000" stroke-width="0.3">Neutral</text>
<text transform="translate(882.46,709.00) scale(0.9727,1)" font-size="18" stroke="#000" stroke-width="0.3">Protection</text>
</svg></body></html>
